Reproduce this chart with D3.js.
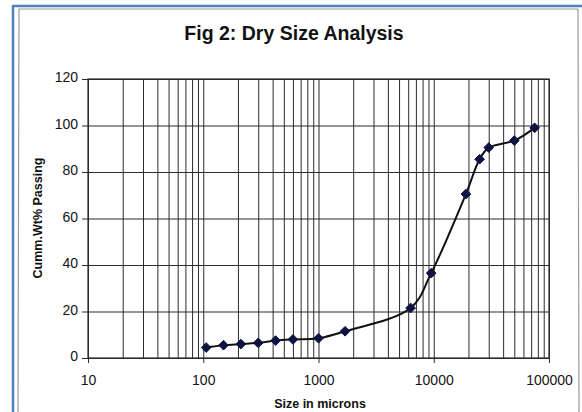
<!DOCTYPE html>
<html>
<head>
<meta charset="utf-8">
<script src="https://cdn.jsdelivr.net/npm/d3@7"></script>
<style>
  body { margin: 0; background: #fff; }
  svg { display: block; font-family: "Liberation Sans", Arial, sans-serif; }
  .axis path { display: none; }
  .grid line { stroke: #2b2b2b; stroke-width: 1; }
  .axis line { stroke: #2b2b2b; }
  .axis text { fill: #151515; font-size: 14px; }
</style>
</head>
<body>
<div class="chart"></div>
<script>
// data
const sizes = [106, 150, 212, 300, 425, 600, 1000, 1700, 6300, 9500, 19000, 25000, 30000, 50000, 75000];
const passing = [4.5, 5.5, 6, 6.5, 7.5, 8, 8.5, 11.5, 21.5, 36.5, 70.5, 85.5, 90.5, 93.5, 99];
const yTicks = [0, 20, 40, 60, 80, 100, 120];
const xMajor = [10, 100, 1000, 10000, 100000];

const svg_width = 582;
const svg_height = 412;
const chart_margin = {top: 79, right: 33, bottom: 54, left: 88};
const chart_width = svg_width - (chart_margin.left + chart_margin.right);
const chart_height = svg_height - (chart_margin.top + chart_margin.bottom);

const svg = d3.select('.chart').append('svg')
    .attr('width', svg_width).attr('height', svg_height);

// page frame (blue window edge + paper edge)
svg.append('line').attr('x1', 19).attr('y1', 9).attr('x2', 578).attr('y2', 9)
    .style('stroke', '#9a9a9a').style('stroke-width', 1.2);
svg.append('line').attr('x1', 19).attr('y1', 9).attr('x2', 18).attr('y2', 412)
    .style('stroke', '#9a9a9a').style('stroke-width', 1.2);
svg.append('line').attr('x1', 578).attr('y1', 9).attr('x2', 579).attr('y2', 412)
    .style('stroke', '#9a9a9a').style('stroke-width', 1.2);
svg.append('line').attr('x1', 12).attr('y1', 6).attr('x2', 582).attr('y2', 6)
    .style('stroke', '#4f81bd').style('stroke-width', 2.5);
svg.append('line').attr('x1', 13).attr('y1', 5).attr('x2', 13).attr('y2', 412)
    .style('stroke', '#4f81bd').style('stroke-width', 2.5);

const g = svg.append('g')
    .attr('transform', `translate(${chart_margin.left},${chart_margin.top})`);

const xScale = d3.scaleLog().domain([10, 100000]).range([0, chart_width]);
const yScale = d3.scaleLinear().domain([0, 120]).range([chart_height, 0]);

// gridlines
g.append('g').attr('class', 'grid')
    .call(d3.axisBottom(xScale).tickSizeInner(chart_height).tickSizeOuter(0).tickFormat(''))
    .call(s => s.select('.domain').remove());
g.append('g').attr('class', 'grid')
    .call(d3.axisLeft(yScale).tickValues(yTicks).tickSizeInner(-chart_width).tickSizeOuter(0).tickFormat(''))
    .call(s => s.select('.domain').remove());
g.append('rect').attr('width', chart_width).attr('height', chart_height)
    .style('fill', 'none').style('stroke', '#2b2b2b').style('stroke-width', 1.2);

// axes
g.append('g').attr('class', 'x axis')
    .attr('transform', `translate(0,${chart_height})`)
    .call(d3.axisBottom(xScale).tickValues(xMajor).tickFormat(d3.format('d'))
        .tickSizeInner(5).tickSizeOuter(0).tickPadding(12));
g.append('g').attr('class', 'y axis')
    .call(d3.axisLeft(yScale).tickValues(yTicks).tickSizeInner(6).tickSizeOuter(0).tickPadding(4))
    .selectAll('text').attr('dy', '0.2em');

// smoothed line + diamond markers
const pts = sizes.map((s, i) => [s, passing[i]]);
const line = d3.line()
    .x(d => xScale(d[0]))
    .y(d => yScale(d[1]))
    .curve(d3.curveCatmullRom.alpha(0.5));
g.append('path').datum(pts)
    .attr('d', line)
    .style('fill', 'none').style('stroke', '#111').style('stroke-width', 2);
g.selectAll('.pt').data(pts).join('path')
    .attr('class', 'pt')
    .attr('transform', d => `translate(${xScale(d[0])},${yScale(d[1])})`)
    .attr('d', d3.symbol(d3.symbolDiamond2, 60))
    .style('fill', '#0d1240').style('stroke', '#0d1240').style('stroke-width', 1);

// titles
svg.append('text').attr('x', 294).attr('y', 40)
    .attr('text-anchor', 'middle')
    .style('font-size', '19.5px').style('font-weight', 'bold').style('fill', '#111')
    .text('Fig 2: Dry Size Analysis');
svg.append('text').attr('x', 320).attr('y', 408)
    .attr('text-anchor', 'middle')
    .style('font-size', '12.5px').style('font-weight', 'bold').style('fill', '#111')
    .text('Size in microns');
svg.append('text')
    .attr('transform', 'translate(42,218) rotate(-90)')
    .attr('text-anchor', 'middle')
    .style('font-size', '12.5px').style('font-weight', 'bold').style('fill', '#111')
    .text('Cumm.Wt% Passing');
</script>
</body>
</html>
